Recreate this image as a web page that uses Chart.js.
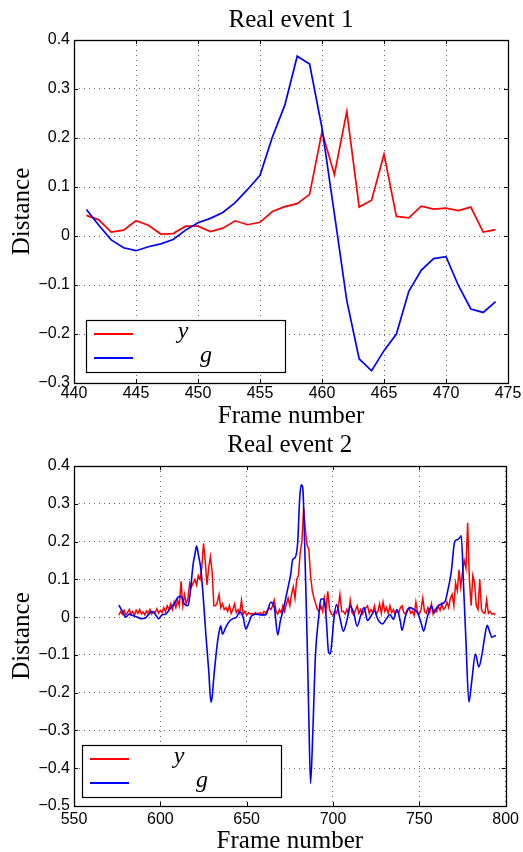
<!DOCTYPE html>
<html>
<head>
<meta charset="utf-8">
<script src="https://cdn.jsdelivr.net/npm/chart.js@4.4.1/dist/chart.umd.min.js"></script>
<style>
  html, body { margin: 0; padding: 0; background: #fff; overflow: hidden; }
  .box { position: absolute; left: 0; width: 523px; }
  #box1 { top: 0; height: 432px; }
  #box2 { top: 430px; height: 426px; }
</style>
</head>
<body>
<div class="box" id="box1"><canvas id="event1"></canvas></div>
<div class="box" id="box2"><canvas id="event2"></canvas></div>
<script>
// Real event 1 (one value per frame, 441..474)
const frames1 = [441, 442, 443, 444, 445, 446, 447, 448, 449, 450, 451, 452, 453, 454, 455, 456, 457,
                 458, 459, 460, 461, 462, 463, 464, 465, 466, 467, 468, 469, 470, 471, 472, 473, 474];
const y1 = [0.042, 0.033, 0.008, 0.012, 0.031, 0.022, 0.004, 0.005, 0.020, 0.020, 0.009, 0.016, 0.031,
            0.023, 0.028, 0.050, 0.060, 0.066, 0.085, 0.213, 0.125, 0.254, 0.059, 0.073, 0.167, 0.040,
            0.037, 0.061, 0.055, 0.057, 0.052, 0.059, 0.008, 0.013];
const g1 = [0.054, 0.022, -0.008, -0.024, -0.030, -0.022, -0.016, -0.007, 0.012, 0.027, 0.036, 0.048,
            0.068, 0.095, 0.124, 0.202, 0.267, 0.367, 0.351, 0.220, 0.045, -0.132, -0.251, -0.275,
            -0.234, -0.200, -0.113, -0.070, -0.046, -0.042, -0.101, -0.149, -0.156, -0.134];

// Real event 2: y is one value per frame from 576 to 794
const y2Start = 576;
const y2 = [
  0.005, 0.015, 0.008, 0.018, 0.006, 0.012, 0.020, 0.008, 0.015, 0.005,
  0.018, 0.010, 0.020, 0.008, 0.014, 0.006, 0.016, 0.010, 0.020, 0.008,
  0.015, 0.012, 0.022, 0.010, 0.018, 0.012, 0.025, 0.015, 0.030, 0.020,
  0.035, 0.020, 0.040, 0.025, 0.045, 0.030, 0.095, 0.030, 0.060, 0.035,
  0.050, 0.090, 0.080, 0.090, 0.100, 0.085, 0.110, 0.100, 0.130, 0.195,
  0.150, 0.085, 0.130, 0.160, 0.120, 0.030, 0.030, 0.040, 0.060, 0.025,
  0.035, 0.020, 0.025, 0.015, 0.030, 0.010, 0.020, 0.035, 0.012, 0.020,
  0.010, 0.045, 0.008, 0.015, 0.005, 0.012, 0.008, 0.010, 0.006, 0.012,
  0.008, 0.010, 0.012, 0.006, 0.015, 0.010, 0.018, 0.025, 0.020, 0.030,
  0.045, 0.015, 0.008, 0.020, 0.012, 0.030, 0.015, 0.035, 0.050, 0.030,
  0.060, 0.080, 0.050, 0.100, 0.110, 0.170, 0.200, 0.290, 0.230, 0.190,
  0.180, 0.110, 0.070, 0.050, 0.035, 0.020, 0.015, 0.030, 0.015, 0.050,
  0.020, 0.068, 0.020, 0.008, 0.005, 0.015, 0.010, 0.025, 0.060, 0.015,
  0.015, 0.008, 0.020, 0.010, 0.045, 0.012, 0.006, 0.018, 0.030, 0.010,
  0.020, 0.008, 0.015, 0.025, 0.030, 0.010, 0.020, 0.012, 0.030, 0.008,
  0.015, 0.035, 0.010, 0.040, 0.015, 0.025, 0.010, 0.030, 0.012, 0.020,
  0.008, 0.018, 0.010, 0.025, 0.030, 0.012, 0.008, 0.020, 0.025, 0.010,
  0.015, 0.005, 0.040, 0.012, 0.008, 0.020, 0.050, 0.015, 0.010, 0.025,
  0.012, 0.035, 0.008, 0.020, 0.015, 0.030, 0.018, 0.035, 0.020, 0.025,
  0.040, 0.025, 0.050, 0.060, 0.030, 0.090, 0.070, 0.125, 0.080, 0.120,
  0.150, 0.130, 0.250, 0.100, 0.030, 0.110, 0.090, 0.030, 0.020, 0.100,
  0.020, 0.012, 0.010, 0.046, 0.010, 0.015, 0.008, 0.010, 0.006
];
// g is read at its turning points
const g2Frames = [576, 578, 580, 582, 584, 586, 589, 591, 593, 595, 597, 599, 601, 603, 605, 607, 608,
  610, 612, 614, 616, 617, 619, 620, 621, 622, 623.5, 625, 626.5, 628, 629.3, 630, 631, 633, 634, 635,
  636, 638, 640, 642, 644, 646, 648, 649.5, 651, 653, 655, 658, 661, 664, 666, 668, 669.5, 671.5,
  673.5, 675.5, 676.7, 678, 679.6, 680.6, 681.6, 682.5, 683.6, 685, 686, 687, 688.3, 689.8, 691.7,
  693, 694.6, 696,
  697.5, 698.5, 699.4, 700.4, 702, 704, 706, 708, 710, 712, 714, 716, 718, 720, 722, 724, 726, 728.6,
  731, 733, 735, 737, 739, 740, 742, 744.5, 747, 749, 751, 752.5, 754.5, 757, 758.6, 760, 762, 765,
  766, 768.5, 770.5, 772, 773.4, 774.3, 775.6, 777, 778.7, 780.4, 782.5, 784.5, 786.3, 787.8, 789.3,
  790.6, 792, 793.5, 794.4];
const g2 = [0.032, 0.015, 0.000, 0.008, 0.004, 0.001, -0.004, -0.003, 0.006, 0.015, 0.008, -0.004, 0.006,
  0.008, 0.018, 0.030, 0.034,
  0.052, 0.055, 0.034, 0.030, 0.052, 0.140, 0.165, 0.188, 0.166, 0.126, 0.043, -0.054, -0.140, -0.225,
  -0.211, -0.158, -0.070, -0.040, -0.023,
  -0.045, -0.026, -0.011, -0.004, -0.001, 0.014, -0.001, -0.032, -0.018, 0.004, 0.008, 0.006, 0.006,
  0.039, 0.026, -0.047, -0.010, 0.025,
  0.069, 0.113, 0.153, 0.157, 0.200, 0.306, 0.350, 0.342, 0.193, -0.054, -0.265, -0.440, -0.307,
  -0.105, 0.000, 0.048, 0.048, 0.000,
  -0.094, -0.097, -0.063, -0.010, 0.033, -0.002, -0.037, -0.010, 0.029, 0.011, -0.024, 0.003, 0.025,
  -0.009, 0.003, 0.016, -0.006, -0.018, -0.004, 0.007, -0.006, 0.020, -0.011, -0.035, 0.003, 0.025,
  0.020, 0.011, -0.015, -0.037, -0.002, 0.029, 0.011, 0.025, 0.033, 0.042, 0.060, 0.120, 0.200, 0.205,
  0.210, 0.215, 0.085, -0.063, -0.225, -0.168, -0.098, -0.132, -0.098, -0.054, -0.022, -0.037, -0.053,
  -0.050, -0.049];

const seriesLabels = ['y', 'g'];
const seriesColors = ['#ff0000', '#0000ff'];

function points(xs, ys) {
    return xs.map((x, i) => ({ x: x, y: ys[i] }));
}

function fmtDist(v) {
    if (Math.abs(v) < 1e-9) return '0';
    const s = Math.abs(v).toFixed(1);
    return v < 0 ? '\u2212' + s : s;
}

// box, inward ticks and the legend, drawn the MATLAB way
const matlabFrame = {
    id: 'matlabFrame',
    afterDraw(chart, args, opts) {
        const ctx = chart.ctx;
        const a = chart.chartArea;
        const xs = chart.scales.x, ys = chart.scales.y;
        ctx.save();
        ctx.strokeStyle = '#000';
        ctx.lineWidth = 1;
        ctx.beginPath();
        xs.ticks.forEach(t => {
            const px = Math.round(xs.getPixelForValue(t.value)) + 0.5;
            ctx.moveTo(px, a.bottom); ctx.lineTo(px, a.bottom - 4);
            ctx.moveTo(px, a.top); ctx.lineTo(px, a.top + 4);
        });
        ys.ticks.forEach(t => {
            const py = Math.round(ys.getPixelForValue(t.value)) + 0.5;
            ctx.moveTo(a.left, py); ctx.lineTo(a.left + 4, py);
            ctx.moveTo(a.right, py); ctx.lineTo(a.right - 4, py);
        });
        ctx.stroke();
        ctx.lineWidth = 1.3;
        ctx.strokeRect(Math.round(a.left) + 0.5, Math.round(a.top) + 0.5,
                       Math.round(a.right - a.left), Math.round(a.bottom - a.top));

        // legend
        const bx = a.left + opts.left, by = a.bottom - opts.bottom - 52;
        ctx.fillStyle = '#fff';
        ctx.fillRect(bx, by, 199, 52);
        ctx.lineWidth = 1.2;
        ctx.strokeRect(bx + 0.5, by + 0.5, 199, 52);
        ctx.font = 'italic 24px "Liberation Serif"';
        ctx.textAlign = 'center';
        ctx.textBaseline = 'middle';
        chart.data.datasets.forEach((ds, i) => {
            const ry = by + 14 + i * 24;
            ctx.strokeStyle = ds.borderColor;
            ctx.lineWidth = 2;
            ctx.beginPath();
            ctx.moveTo(bx + 8, ry); ctx.lineTo(bx + 47, ry);
            ctx.stroke();
            ctx.fillStyle = '#000';
            ctx.fillText(ds.label, bx + 97 + i * 23, ry - 2);
        });
        ctx.restore();
    }
};

function makeChart(id, datasets, xr, yr, layout) {
    return new Chart(document.getElementById(id), {
        type: 'line',
        data: { datasets: datasets },
        options: {
            responsive: true,
            maintainAspectRatio: false,
            animation: false,
            layout: { padding: { left: 0, right: 15, top: 0, bottom: 0 } },
            elements: { point: { radius: 0 } },
            plugins: {
                legend: { display: false },
                tooltip: { enabled: false },
                title: {
                    display: true,
                    fullSize: false,
                    text: layout.title,
                    color: '#000',
                    font: { family: 'Liberation Serif', size: 25, weight: 'normal' },
                    padding: layout.titlePad
                },
                matlabFrame: { left: layout.legendLeft, bottom: layout.legendBottom }
            },
            scales: {
                x: {
                    type: 'linear',
                    min: xr[0], max: xr[1],
                    ticks: { stepSize: xr[2], color: '#000', padding: layout.xTickPad, maxRotation: 0,
                             font: { family: 'Liberation Sans', size: 16 } },
                    grid: { color: '#666', lineWidth: 1, drawTicks: false },
                    border: { display: false, dash: [1, 4] },
                    title: { display: true, text: 'Frame number', color: '#000',
                             font: { family: 'Liberation Serif', size: 25 },
                             padding: { top: 0, bottom: layout.xTitlePad } },
                    afterFit: s => { s.height = layout.xHeight; }
                },
                y: {
                    min: yr[0], max: yr[1],
                    ticks: { stepSize: 0.1, color: '#000', padding: 4,
                             font: { family: 'Liberation Sans', size: 16 },
                             callback: v => fmtDist(v) },
                    grid: { color: '#666', lineWidth: 1, drawTicks: false },
                    border: { display: false, dash: [1, 4] },
                    title: { display: true, text: 'Distance', color: '#000',
                             font: { family: 'Liberation Serif', size: 25 },
                             padding: { top: 7, bottom: 0 } },
                    afterFit: s => { s.width = 74; }
                }
            }
        },
        plugins: [matlabFrame]
    });
}

document.addEventListener('DOMContentLoaded', function() {
    // Real event 1
    makeChart('event1', [
        { label: seriesLabels[0], data: points(frames1, y1), borderColor: seriesColors[0],
          borderWidth: 1.7, tension: 0, order: 2 },
        { label: seriesLabels[1], data: points(frames1, g1), borderColor: seriesColors[1],
          borderWidth: 1.7, tension: 0, order: 1 }
    ], [440, 475, 5], [-0.3, 0.4], {
        title: 'Real event 1', titlePad: { top: 5, bottom: 5 },
        xHeight: 49, xTickPad: 1, xTitlePad: 1, legendLeft: 12, legendBottom: 11
    });

    // Real event 2
    const y2Frames = y2.map((v, i) => y2Start + i);
    makeChart('event2', [
        { label: seriesLabels[0], data: points(y2Frames, y2), borderColor: seriesColors[0],
          borderWidth: 1.5, tension: 0, order: 2 },
        { label: seriesLabels[1], data: points(g2Frames, g2), borderColor: seriesColors[1],
          borderWidth: 1.6, cubicInterpolationMode: 'monotone', order: 1 }
    ], [550, 800, 50], [-0.5, 0.4], {
        title: 'Real event 2', titlePad: { top: 0, bottom: 6 },
        xHeight: 50, xTickPad: 4, xTitlePad: 0, legendLeft: 8, legendBottom: 9
    });
});
</script>
</body>
</html>
